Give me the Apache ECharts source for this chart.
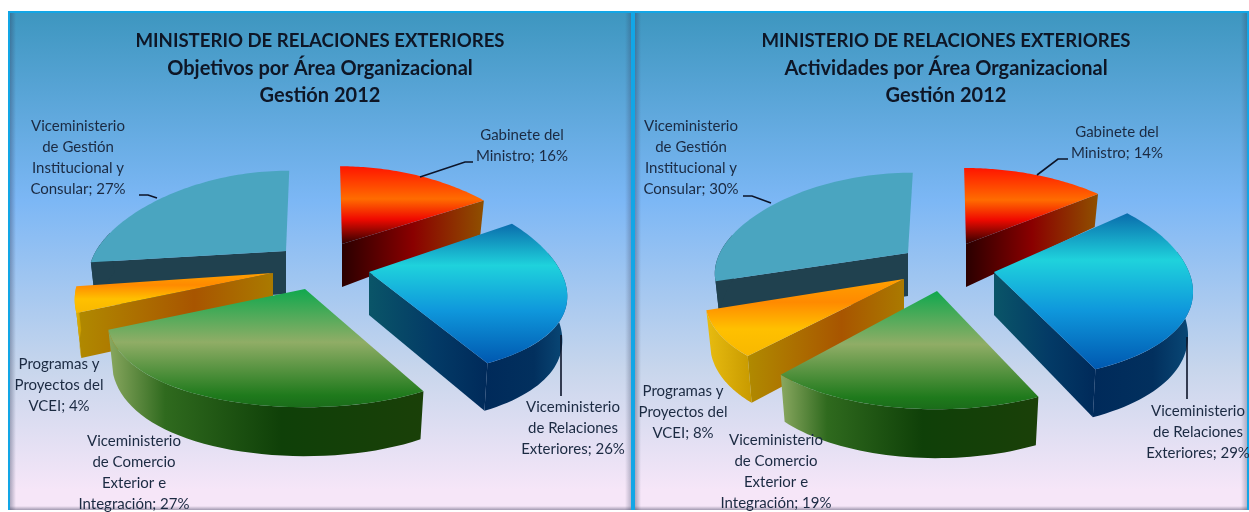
<!DOCTYPE html>
<html><head><meta charset="utf-8">
<style>html,body{margin:0;padding:0;background:#fff}#c{width:1249px;height:512px}</style>
<script src="https://cdn.jsdelivr.net/npm/echarts@6/dist/echarts.min.js"></script>
</head><body><div id="c"></div>
<script>
// ---- data ----
const areaNames = ['Gabinete del\nMinistro','Viceministerio\nde Relaciones\nExteriores','Viceministerio\nde Comercio\nExterior e\nIntegración','Programas y\nProyectos del\nVCEI','Viceministerio\nde Gestión\nInstitucional y\nConsular'];
const objetivos = [16,26,27,4,27];
const actividades = [14,29,19,8,30];
const titleMain = 'MINISTERIO DE RELACIONES EXTERIORES';
const subtitle1 = 'Objetivos por Área Organizacional';
const subtitle2 = 'Actividades por Área Organizacional';
const titleYear = 'Gestión 2012';

// ---- layout ----
const layoutL = {
  rx:192, ry:95, px:0.25,
  sx:[1,1,1,1,0.99], sy:[0.9,1,1.12,1.1,0.93], lean:[0.025,0,0,0,-0.04],
  apex:[[342,244],[369,272],[305,289],[273,273],[286,251]],
  label:[[522,146],[573,428],[134,473],[59,385],[78,158]],
  leader:[[[420,177],[465,162],[473,162]],[[561,335],[561,396]],null,null,[[139,195],[148,195],[157,198]]]
};
const layoutR = {
  rx:195, ry:95, px:0.2,
  sx:[1,1,1,1,0.965], sy:[0.88,1.03,1.12,1.03,0.93], lean:[0.025,0,0,0,-0.06],
  apex:[[966,244],[994,272],[937,291],[904,279],[908,253]],
  label:[[1117,143],[1198,432],[776,472],[683,412],[691,158]],
  leader:[[[1037,175],[1058,159],[1068,159]],[[1187,337],[1187,399]],null,null,[[743,196],[752,196],[771,203]]]
};
const py = 0.1, wallBase = 43, wallGrowFront = 0.05, wallGrowBack = 0.2, wallShrink = 0.975;
const drawOrder = [1,3,5,4,2]; // stacking per slice (back to front)
const G = echarts.graphic.LinearGradient;
const vgrad = s => new G(0,0,0,1,s.map(a=>({offset:a[0],color:a[1]})));
const hgrad = s => new G(0,0,1,0,s.map(a=>({offset:a[0],color:a[1]})));
const topFill = [
  vgrad([[0,'#ff1500'],[.42,'#ff6c00'],[.68,'#f00a00'],[1,'#2e0000']]),
  vgrad([[0,'#0a6cac'],[.3,'#1fd2dc'],[.62,'#0f98dc'],[1,'#0058b0']]),
  vgrad([[0,'#10a84e'],[.45,'#90ad66'],[.9,'#1f7a1c'],[1,'#1a6c1a']]),
  vgrad([[0,'#ffa000'],[.3,'#ff8a00'],[.65,'#ffc000'],[1,'#f8b800']]),
  '#4aa5c0'
];
const cutFill = [
  hgrad([[0,'#2a0000'],[.5,'#8a0000'],[1,'#8f5000']]),
  hgrad([[0,'#0a5568'],[.55,'#033a66'],[1,'#002a5a']]),
  '#123c08',
  hgrad([[0,'#b08a00'],[.6,'#a85500'],[1,'#aa7a00']]),
  '#20414f'
];
const arcFill = [
  '#8f5000',
  hgrad([[0,'#002a5a'],[.6,'#02305e'],[1,'#0a4a78']]),
  hgrad([[0,'#8aa860'],[.18,'#2f6a1e'],[.55,'#0f4008'],[1,'#1a4008']]),
  hgrad([[0,'#e8bc10'],[1,'#c89a00']]),
  '#20414f'
];
const rad = d => d*Math.PI/180;
function topPt(cfg,i,deg){
  const X=Math.sin(rad(deg)), V=-Math.cos(rad(deg));
  const dy=cfg.sy[i]*cfg.ry*V/(1-py*V);
  const dx=cfg.sx[i]*cfg.rx*X/(1-cfg.px*V)+cfg.lean[i]*dy;
  return [cfg.apex[i][0]+dx, cfg.apex[i][1]+dy];
}
function botPt(cfg,i,p){
  const dx=p[0]-cfg.apex[i][0], dy=p[1]-cfg.apex[i][1];
  return [cfg.apex[i][0]+dx*wallShrink, cfg.apex[i][1]+dy+wallBase+(dy>0?wallGrowFront:wallGrowBack)*dy];
}
function makeRender(values,cfg){
  const total=values.reduce((a,b)=>a+b,0);
  return function(params,api){
    const i=params.dataIndex, val=api.value(0);
    let before=0; for(let k=0;k<i;k++) before+=values[k];
    const a0=before/total*360, a1=(before+val)/total*360;
    const z=drawOrder[i]*10;
    const kids=[];
    const apex=cfg.apex[i], apexB=botPt(cfg,i,apex);
    const poly=(pts,fill,zz)=>kids.push({type:'polygon',z2:zz,shape:{points:pts},style:{fill:fill}});
    // cut walls
    if(a0>180){const r=topPt(cfg,i,a0);poly([apex,r,botPt(cfg,i,r),apexB],cutFill[i],z+1);}
    if(a1<180){const r=topPt(cfg,i,a1);poly([apex,r,botPt(cfg,i,r),apexB],cutFill[i],z+1);}
    // rim wall (front-facing part only)
    const s=Math.max(a0,78), e=Math.min(a1,282);
    if(e>s){
      const tp=[];for(let d=0;d<=40;d++)tp.push(topPt(cfg,i,s+(e-s)*d/40));
      const bp=tp.map(p=>botPt(cfg,i,p)).reverse();
      poly(tp.concat(bp),arcFill[i],z+2);
    }
    // top face
    const pts=[apex];for(let d=0;d<=60;d++)pts.push(topPt(cfg,i,a0+(a1-a0)*d/60));
    poly(pts,topFill[i],z+3);
    // leader + label
    if(cfg.leader[i])kids.push({type:'polyline',z2:90,shape:{points:cfg.leader[i]},style:{fill:null,stroke:'#0c1428',lineWidth:1.6}});
    kids.push({type:'text',z2:100,style:{text:areaNames[i]+'; '+val+'%',x:cfg.label[i][0],y:cfg.label[i][1],align:'center',verticalAlign:'middle',
      fill:'#1b2a42',font:'15px Lato',lineHeight:21}});
    return {type:'group',children:kids};
  };
}
const panelGrad=()=>vgrad([[0,'#3d96bf'],[.38,'#7cb7f5'],[.72,'#c8d6ec'],[.96,'#f6e6f8'],[1,'#f6e6f8']]);
function panel(x,w){
  const top=11,h=499;
  return [
    {type:'rect',z:0,shape:{x,y:top,width:w,height:h},style:{fill:panelGrad()}},
    {type:'rect',z:0,shape:{x:x,y:top,width:8,height:h},style:{fill:hgrad([[0,'rgba(50,60,90,.5)'],[1,'rgba(50,60,90,0)']])}},
    {type:'rect',z:0,shape:{x:x+w-8,y:top,width:8,height:h},style:{fill:hgrad([[0,'rgba(50,60,90,0)'],[1,'rgba(50,60,90,.4)']])}},
    {type:'rect',z:0,shape:{x:x,y:top+h-4,width:w,height:4},style:{fill:vgrad([[0,'rgba(60,60,90,0)'],[1,'rgba(60,60,90,.45)']])}},
    {type:'rect',z:0,shape:{x:x,y:top,width:w,height:2},style:{fill:'#12a6e6'}},
    {type:'rect',z:0,shape:{x:x,y:top,width:2,height:h},style:{fill:'#12a6e6'}},
    {type:'rect',z:0,shape:{x:x+w-2,y:top,width:2,height:h},style:{fill:'#12a6e6'}}
  ];
}
const rich={
  a:{fontFamily:'Lato',fontWeight:'bold',fontSize:18.6,color:'#0e1626',lineHeight:27.5},
  b:{fontFamily:'Lato',fontWeight:'bold',fontSize:20,color:'#0e1626',lineHeight:27.5}
};
const mkTitle=(sub,left)=>({text:'{a|'+titleMain+'}\n{b|'+sub+'}\n{b|'+titleYear+'}',left:left,top:22,textAlign:'center',textStyle:{align:'center',rich:rich}});
const chart=echarts.init(document.getElementById('c'),null,{renderer:'canvas'});
chart.setOption({
  animation:false,
  backgroundColor:'#fff',
  title:[mkTitle(subtitle1,315),mkTitle(subtitle2,941)],
  graphic:{elements:panel(8,625).concat(panel(633,616))},
  series:[
    {type:'custom',coordinateSystem:'none',silent:true,clip:false,z:5,data:objetivos.map(v=>[v]),renderItem:makeRender(objetivos,layoutL)},
    {type:'custom',coordinateSystem:'none',silent:true,clip:false,z:5,data:actividades.map(v=>[v]),renderItem:makeRender(actividades,layoutR)}
  ]
});
</script></body></html>
